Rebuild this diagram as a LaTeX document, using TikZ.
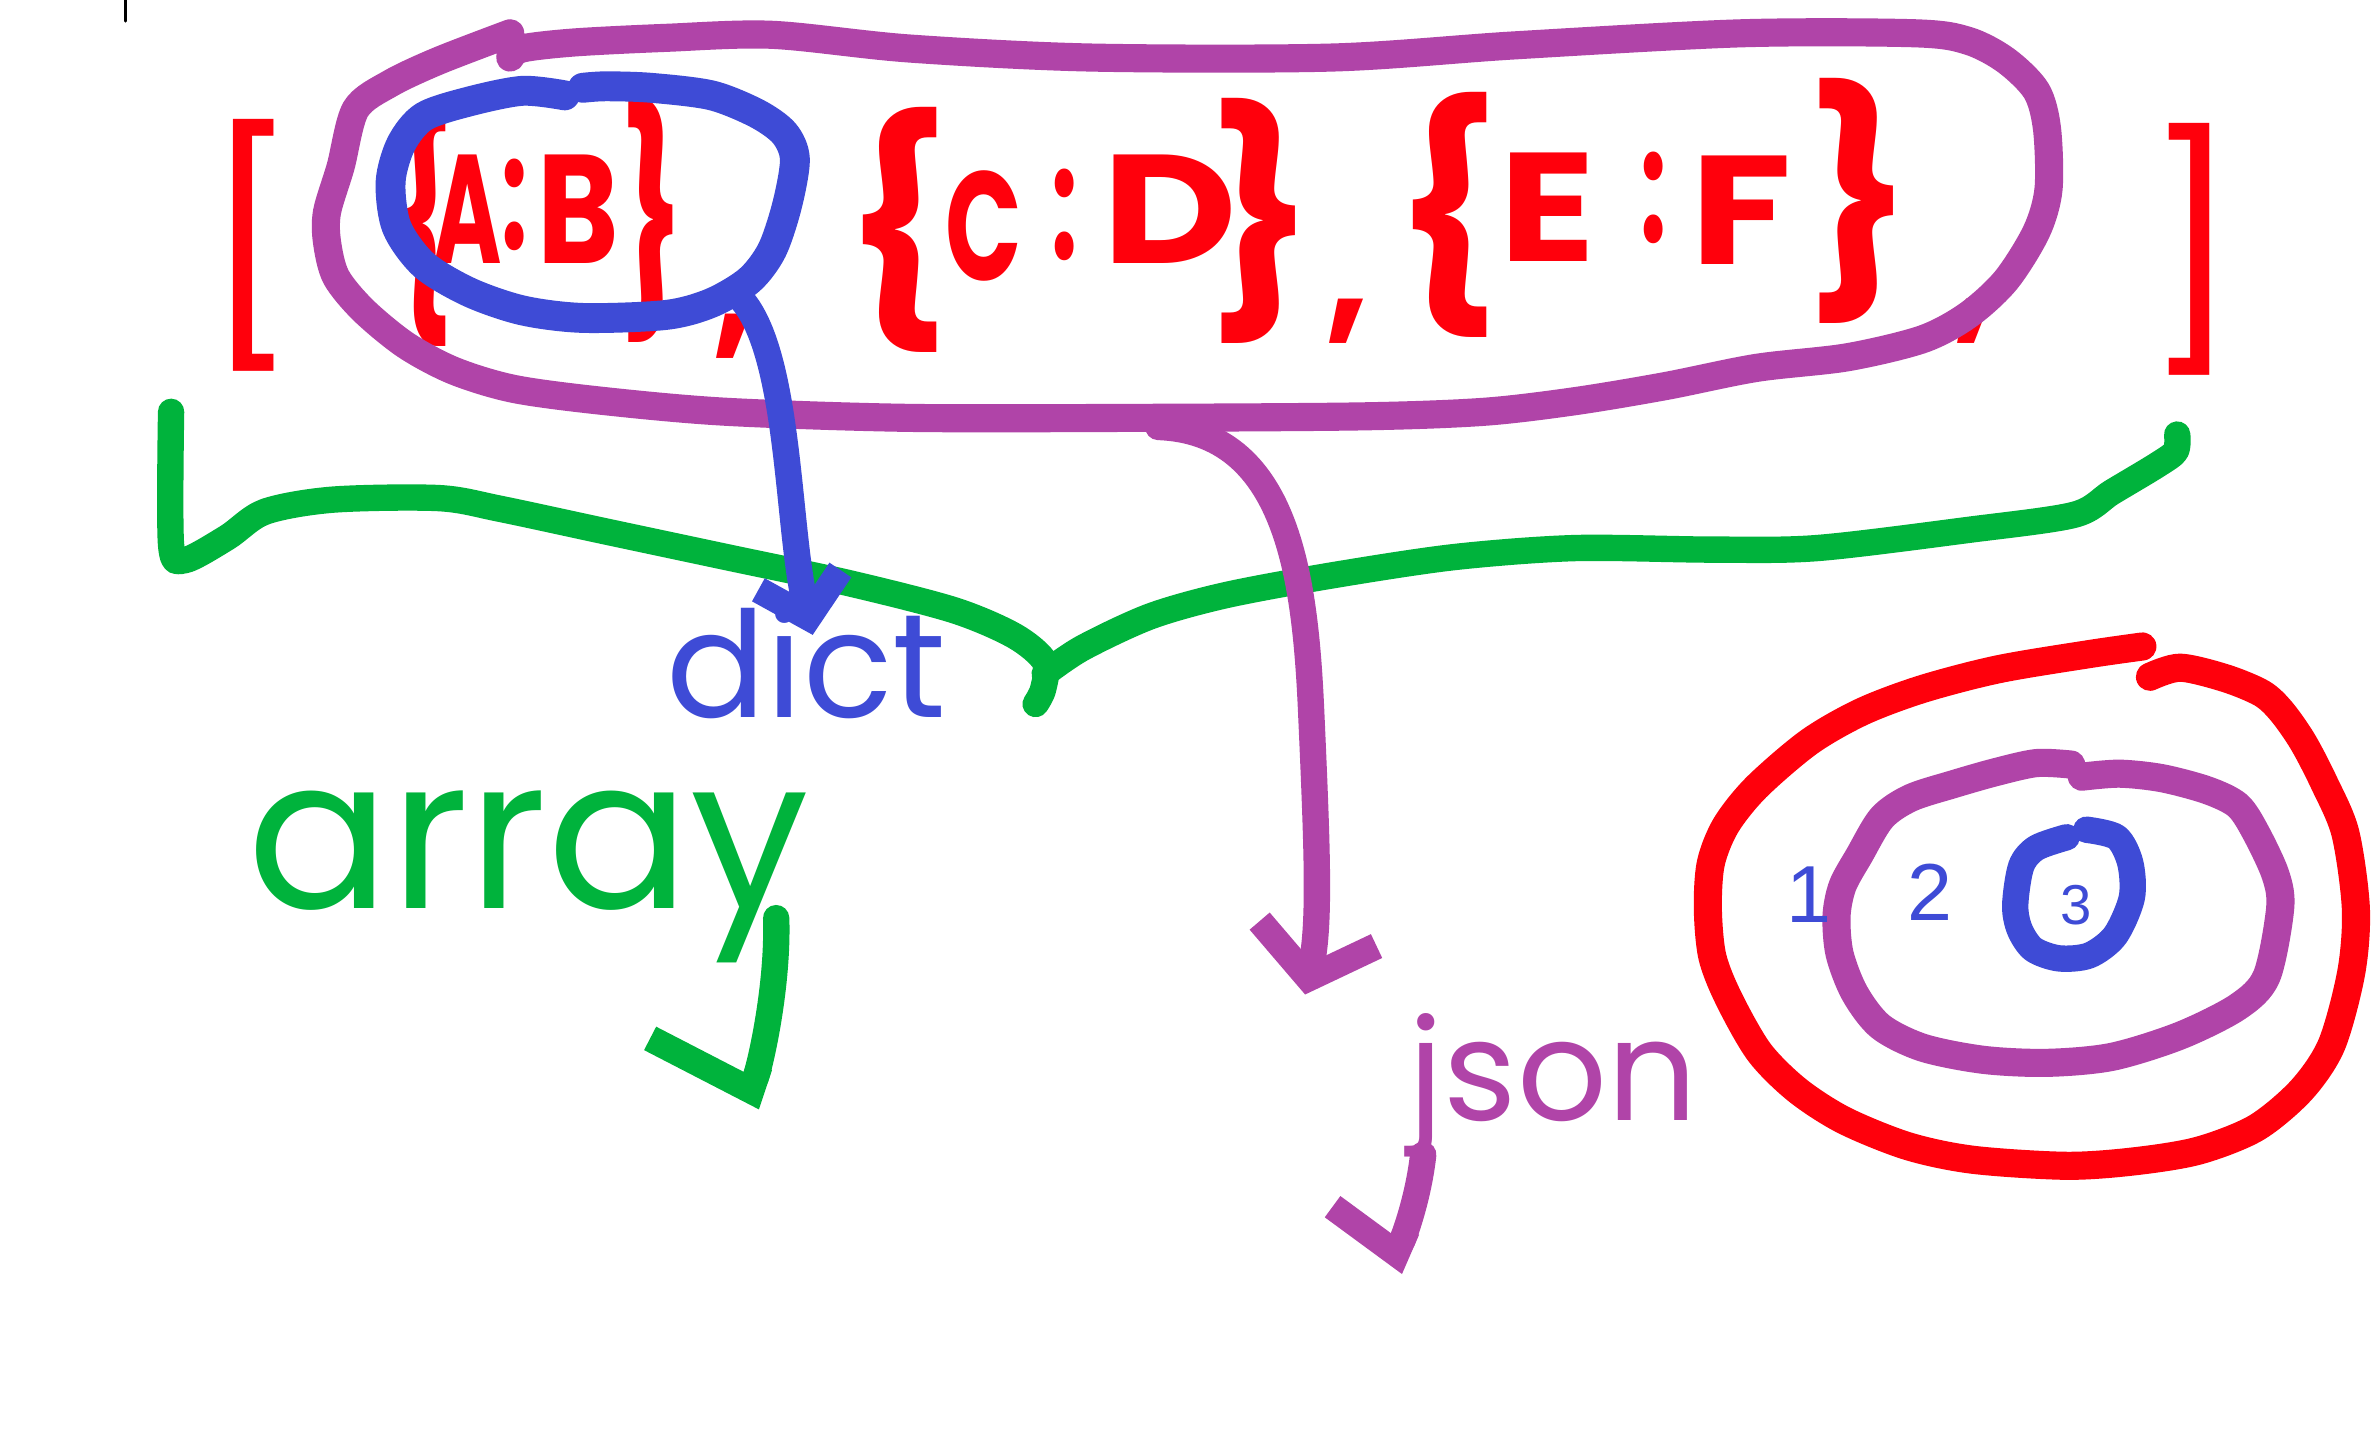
\documentclass[tikz,border=0pt]{standalone}
\usepackage{fontspec}
\newfontfamily\handfont{Poppins}
\newfontfamily\typefont{Liberation Sans}
\usetikzlibrary{arrows.meta}
\definecolor{penRed}{RGB}{255,0,12}
\definecolor{penPurple}{RGB}{176,68,168}
\definecolor{penBlue}{RGB}{62,75,214}
\definecolor{penGreen}{RGB}{0,179,60}
\newcommand{\squeeze}[2]{\scalebox{#1}[1]{#2}}

\begin{document}
\begin{tikzpicture}[x=0.01514cm, y=-0.01514cm, line cap=round, line join=round,
    redStyle/.style={text=penRed, font=\handfont\bfseries\fontsize{44}{44}\selectfont, inner sep=0pt},
    braceStyle/.style={text=penRed, font=\handfont\bfseries\fontsize{62}{62}\selectfont, inner sep=0pt},
    brackStyle/.style={text=penRed, font=\handfont\fontsize{64}{64}\selectfont, inner sep=0pt},
    wordStyle/.style={font=\handfont\fontsize{#1}{#1}\selectfont, inner sep=0pt, anchor=base west},
    digitStyle/.style={text=penBlue, font=\typefont\fontsize{#1}{#1}\selectfont, inner sep=0pt},
    loopStyle/.style={line width=8pt},
    penStyle/.style={line width=7.5pt}]
    \fill[white] (0,0) rectangle (1568,944);
    \useasboundingbox (0,0) rectangle (1568,944);
    \draw[black, line width=0.8pt] (83,0) -- (83,14);

    \node[brackStyle, anchor=west] (br_L) at (134,162) {[};
    \node[braceStyle] (g1_L) at (280,148) {\squeeze{0.55}{\{}};
    \node[redStyle]   (g1_0) at (309,138) {\squeeze{0.6}{A}};
    \node[redStyle]   (g1_S) at (340,135) {\squeeze{0.6}{:}};
    \node[redStyle]   (g1_1) at (382,138) {\squeeze{0.8}{B}};
    \node[braceStyle] (g1_R) at (431,145) {\squeeze{0.6}{\}}};
    \node[redStyle]   (cm_1) at (485,222) {,};

    \node[braceStyle] (g2_L) at (593,152) {\{};
    \node[redStyle]   (g2_0) at (650,149) {\squeeze{0.65}{C}};
    \node[redStyle]   (g2_S) at (703,142) {\squeeze{0.6}{:}};
    \node[redStyle]   (g2_1) at (773,138) {\squeeze{1.2}{D}};
    \node[braceStyle] (g2_R) at (833,146) {\}};
    \node[redStyle]   (cm_2) at (890,212) {,};

    \node[braceStyle] (g3_L) at (956,142) {\{};
    \node[redStyle]   (g3_0) at (1022,137) {\squeeze{1.15}{E}};
    \node[redStyle]   (g3_S) at (1092,131) {\squeeze{0.6}{:}};
    \node[redStyle]   (g3_1) at (1150,139) {\squeeze{1.2}{F}};
    \node[braceStyle] (g3_R) at (1228,133) {\}};
    \node[redStyle]   (cm_3) at (1305,212) {,};
    \node[brackStyle, anchor=east] (br_R) at (1480,165) {]};

    \node[wordStyle=42, text=penBlue]   (dict)  at (440,474) {dict};
    \node[wordStyle=60, text=penGreen]  (array) at (163,600) {array};
    \node[wordStyle=40, text=penPurple] (json)  at (930,740) {json};

    \draw[penPurple, loopStyle] plot[smooth] coordinates {(337,22) (290,40) (258,55) (235,72) (225,110) (216,140) (216,160) (222,183) (240,205) (268,228) (300,245) (340,257) (400,265) (480,272) (600,276) (750,276) (900,275) (980,272) (1040,265) (1100,255) (1160,243) (1220,236) (1270,224) (1300,208) (1325,185) (1345,153) (1353,125) (1352,85) (1345,60) (1325,40) (1300,27) (1265,22) (1150,22) (1000,30) (880,38) (720,38) (600,32) (510,23) (440,25) (380,28) (345,32) (337,38)};
    \draw[penBlue, line width=8.5pt] plot[smooth] coordinates {(373,63) (345,60) (310,67) (280,77) (265,95) (258,120) (262,150) (280,175) (310,193) (345,205) (385,210) (440,208) (470,200) (495,185) (510,165) (520,135) (525,105) (518,88) (500,75) (470,63) (430,58) (400,57) (385,58)};
    \draw[penGreen, penStyle] plot[smooth] coordinates {(113,272) (113,360) (122,370) (150,355) (175,338) (220,330) (290,329) (330,336) (400,351) (480,368) (560,385) (630,403) (670,420) (690,437) (689,455) (684,465)};
    \draw[penGreen, penStyle] plot[smooth] coordinates {(690,445) (715,428) (760,407) (810,393) (880,380) (960,368) (1040,362) (1130,363) (1200,362) (1300,350) (1370,340) (1395,325) (1425,307) (1437,298) (1438,287)};

    \coordinate (bl_out) at (490,198);
    \coordinate (pl_out) at (765,282);
    \coordinate (array_end) at (493,730);
    \coordinate (json_end) at (918,838);
    \draw[penBlue, penStyle, -{Straight Barb[length=11pt, width=24pt]}] (bl_out) .. controls (522,235) and (520,350) .. ([shift={(4,20)}]dict.north);
    \draw[penPurple, penStyle, -{Straight Barb[length=13pt, width=34pt]}] (pl_out) .. controls (850,285) and (862,380) .. (866,470) .. controls (870,560) and (872,610) .. ([shift={(-68,-12)}]json.north west);
    \draw[penGreen, penStyle, -{Straight Barb[harpoon, swap, length=5pt, width=64pt]}] ([shift={(-22,-30)}]array.south east) .. controls (514,650) and (503,700) .. (array_end);
    \draw[penPurple, penStyle, -{Straight Barb[harpoon, swap, length=5pt, width=44pt]}] ([shift={(10,-2)}]json.south west) .. controls (937,790) and (928,815) .. (json_end);

    \draw[penRed, loopStyle] plot[smooth] coordinates {(1415,427) (1380,432) (1320,442) (1270,455) (1230,470) (1195,490) (1160,520) (1140,545) (1130,570) (1128,600) (1131,632) (1142,660) (1162,695) (1187,720) (1218,740) (1260,757) (1303,766) (1365,770) (1410,767) (1452,760) (1490,745) (1520,720) (1540,690) (1553,642) (1556,600) (1549,550) (1535,517) (1521,490) (1507,470) (1494,458) (1470,448) (1440,441) (1420,447)};
    \draw[penPurple, loopStyle] plot[smooth] coordinates {(1368,505) (1345,504) (1318,510) (1290,518) (1262,527) (1243,540) (1228,565) (1217,585) (1213,605) (1215,630) (1225,656) (1242,678) (1270,692) (1310,700) (1352,702) (1395,698) (1440,684) (1478,665) (1497,645) (1506,600) (1503,578) (1490,550) (1478,532) (1458,522) (1428,514) (1400,511) (1375,513)};
    \draw[penBlue, line width=7.5pt] plot[smooth] coordinates {(1365,553) (1345,560) (1335,572) (1331,598) (1334,614) (1343,627) (1360,633) (1380,631) (1397,618) (1408,593) (1407,570) (1398,553) (1378,548)};
    \node[digitStyle=23] (n_1) at (1195,591) {1};
    \node[digitStyle=23] (n_2) at (1275,589) {2};
    \node[digitStyle=16] (n_3) at (1371,598) {3};
\end{tikzpicture}
\end{document}
